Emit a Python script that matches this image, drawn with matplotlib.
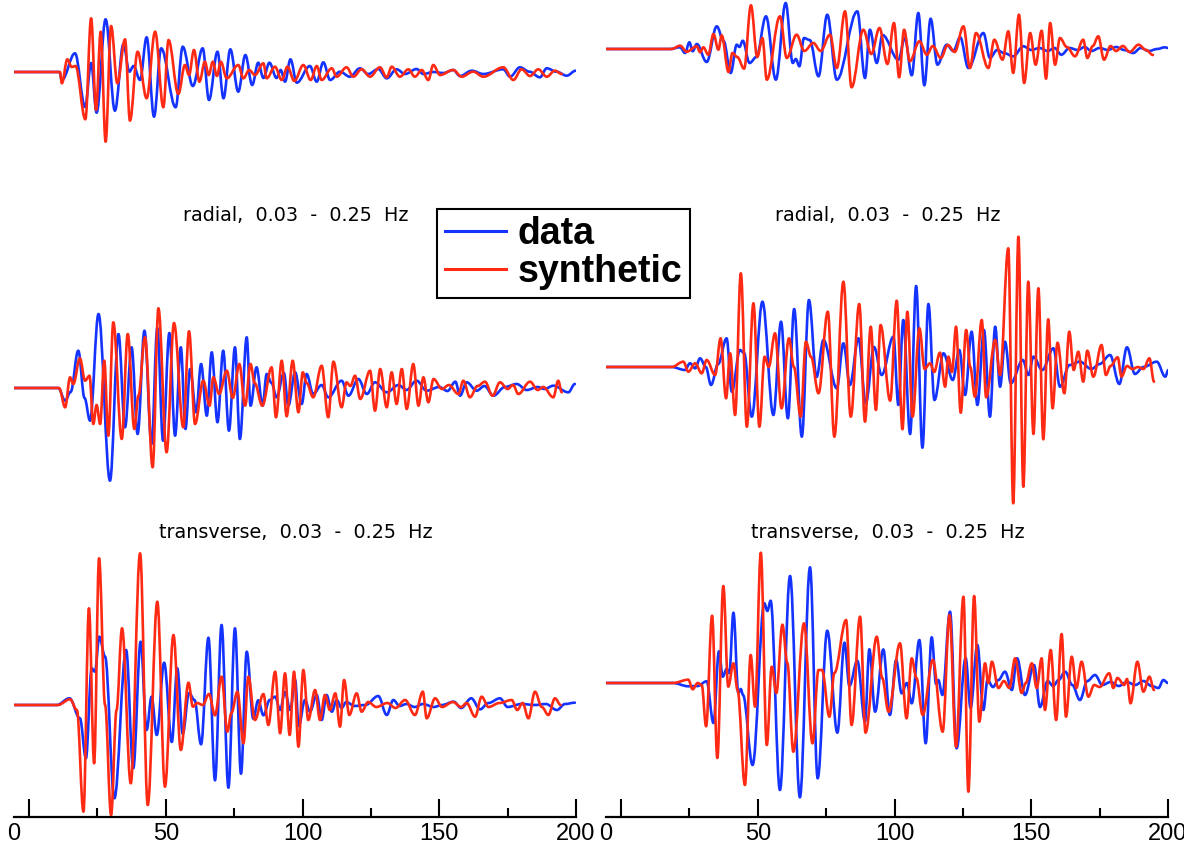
"""Data vs. synthetic seismograms, radial / transverse, 0.03 - 0.25 Hz."""

import matplotlib
matplotlib.use("Agg")
import matplotlib.pyplot as plt
from matplotlib.lines import Line2D
from matplotlib.path import Path
from matplotlib.patches import PathPatch
import numpy as np

BLUE = "#1533ff"
RED = "#ff2a14"

# ── Trace extrema: (time s, amplitude) ───────────────────────────────────────
# top row (component label cut off), left station
L1_DATA = [(-5.5, 0), (11.1, 0), (12.0, -8), (16.8, 18.7), (20.5, -35), (22.7, 9), (24.7, -40.7),
           (28.0, 52.7), (31.4, -38.7), (34.5, 27.7), (36.7, 0.3), (38.2, 6), (40.6, -8), (43.0, 34.7),
           (45.7, -44.7), (48.3, 23.7), (53.6, -35.3), (56.2, 25.3), (59.9, -14), (63.5, 23.7),
           (65.8, -28), (68.9, 20.3), (71.1, -26.3), (73.6, 22.7), (76.5, -19.7), (79.1, 17),
           (81.6, -13), (83.8, 9.3), (85.7, -6), (87.9, 9.3), (90.5, -6), (92.0, 2), (93.6, -9.7),
           (95.6, 12.7), (97.9, -10.7), (102.7, 6), (105.2, -9.7), (107.6, 9.7), (110.1, -8),
           (113.7, 0.3), (117.3, -4.7), (121.0, 3.7), (124.0, -2), (127.7, 3), (130.8, -6.3),
           (134.4, 2.7), (137.5, -2), (141.7, 3), (144.2, -2), (147.8, 0), (151.5, -1), (155.1, 2),
           (157.6, -4), (161.9, 1.3), (166.1, -2), (173.4, 2.7), (175.9, -4.7), (179.5, 4.7),
           (183.0, 0.3), (186.8, -5.3), (189.3, 3.7), (192.9, 0.3), (196.6, -3.7), (199.9, 1.3)]
L1_SYN = [(-5.5, 0), (11.3, 0), (12.0, -11.3), (14.0, 12.7), (15.6, 5), (17.0, 6), (20.6, -47.3),
          (22.7, 53.7), (24.5, -38), (26.2, 40.3), (28.0, -69.7), (30.0, 46), (32.3, -11.3),
          (35.1, 32.7), (36.9, -48.7), (39.7, 20.3), (43.0, -26.3), (46.1, 40.3), (49.1, -35.3),
          (51.0, 32), (54.6, -22), (57.0, 7), (58.5, -3), (60.3, 22), (62.3, -9.7), (64.3, 10.3),
          (65.7, -3), (67.2, 10.3), (68.7, -4), (70.1, 10.3), (72.3, -6.3), (76.5, 7), (78.4, -6.3),
          (80.5, 2), (82.6, -3), (85.7, 8.7), (86.9, -6.3), (89.9, 5.3), (92.4, -8), (94.5, 5.3),
          (97.0, -9), (100.3, 7), (103.0, -8), (105.2, 6), (107.0, -8), (110.7, 3.7), (112.5, -4.7),
          (116.1, 4.7), (118.6, -4.7), (121.6, 2.7), (124.7, -4.7), (128.3, 4.7), (130.8, -5.3),
          (132.6, 5.3), (135.6, -4.7), (138.7, 2.7), (141.1, -4.7), (143.6, 2), (146.0, -8),
          (147.8, 7), (150.3, -3), (155.1, 2), (158.2, -4.7), (162.4, 0.3), (166.1, -4.7),
          (173.4, 4.7), (177.1, -8), (180.1, 2.7), (183.2, -4), (186.2, 2.7), (189.3, -4.7),
          (192.3, 1.3), (194.8, -2)]

# top row, right station
R1_DATA = [(-5.5, 0), (17.9, 0), (21.6, 1.7), (23.4, -4), (25.0, 6.7), (26.2, -2.3), (27.7, 5),
           (31.3, -13), (35.0, 22.7), (37.5, 8), (40.1, -24), (42.3, 4.3), (43.3, 2), (44.5, 8.3),
           (47.0, -14), (49.5, -8), (53.0, 32.7), (56.6, -30.7), (60.2, 46), (62.8, -14),
           (63.9, -10), (65.2, -17.3), (66.9, 11), (69.0, 9), (72.2, -27.3), (75.4, 34.3),
           (78.9, -30.7), (86.4, 37.7), (89.2, -29), (91.0, 19.3), (93.5, -14), (95.6, 14),
           (101.4, -10.7), (103.8, 11), (106.3, -26.3), (108.7, 36), (110.9, -36.3), (113.2, 30.3),
           (115.7, -15.7), (119.1, 4.3), (121.5, -2), (124.0, 11.7), (127.0, -19), (132.5, 16),
           (134.9, -9), (137.5, -1), (140.0, -4), (143.4, -7.3), (147.1, 2.7), (150.0, -1),
           (153.0, 1), (156.0, -2), (158.5, 1), (161.0, -5.7), (164.0, 1), (167.0, -1), (169.5, 2),
           (172.0, -2), (175.0, 1), (178.0, -1), (181.0, 2), (184.0, -1), (187.3, -4), (190.0, 1),
           (193.0, -2), (196.0, 0), (198.9, 1.7), (200.0, 1)]
R1_SYN = [(-5.5, 0), (18.5, 0), (21.6, 3.3), (24.0, -2.7), (27.7, 2.7), (28.9, -3.3), (30.1, 1.7),
          (31.9, -5.7), (33.8, 15), (35.6, -0.7), (36.8, 13.7), (39.3, -23), (40.7, -4), (42.5, -8),
          (45.0, -19.7), (47.5, 43.7), (49.8, -8), (51.7, 11), (53.3, -30.7), (58.1, 32.7),
          (60.6, -9), (64.2, 14.3), (67.0, -2), (70.3, 6), (73.0, -2), (76.4, 14.3), (78.9, -19),
          (81.9, 37.7), (84.3, -38.3), (88.6, 19.3), (91.5, -5), (94.5, 21), (97.4, -15),
          (99.8, 26), (101.7, -28.3), (103.5, 19.3), (105.6, -12.3), (109.1, 7.7), (111.8, -5.7),
          (114.0, 3), (116.9, -9), (119.5, 4), (122.0, -3), (125.2, 22.7), (127.6, -19),
          (129.8, 16), (134.3, -19), (136.5, 9.3), (139.5, -10.7), (141.6, 17.7), (143.4, -24),
          (145.5, 34.3), (147.4, -34), (149.6, 16), (151.6, -15.7), (153.8, 18.3), (155.4, -29.7),
          (156.9, 26), (158.7, -15.7), (160.5, 11), (163.0, 2), (166.0, -7.3), (169.0, 9.3),
          (170.5, -9), (172.5, 3), (174.5, 12.7), (176.6, -10.7), (179.0, 3), (181.0, -2),
          (183.5, 3), (186.0, -3), (189.2, 4.3), (192.0, -1), (194.5, -6)]

# radial, left station
L2_DATA = [(-5.5, 0), (10.7, 0), (13.2, -12.7), (15.2, -4), (18.0, 37.3), (20.3, -10), (22.3, -32.7),
           (25.4, 74), (29.6, -92.7), (32.7, 54), (35.1, -39.3), (37.5, 40.7), (39.7, -46),
           (42.2, 57.3), (44.8, -56), (46.9, 60), (49.0, -52.7), (51.3, 55), (53.4, -47.7),
           (55.5, 40.7), (57.2, -41), (58.9, 19), (61.1, -24.3), (62.9, 24), (65.0, -27.7),
           (66.8, 35.7), (68.9, -34.3), (71.0, 37.3), (73.1, -42.7), (75.3, 40.7), (77.1, -51),
           (79.6, 50.7), (81.0, -17.7), (83.2, 20.7), (85.4, -17.7), (86.9, 14), (88.7, 5),
           (90.5, -9.3), (93.2, 15), (94.8, -17.7), (97.3, 15.7), (99.7, -16), (101.5, 14),
           (103.9, -6), (107.0, 3), (109.4, -9.3), (114.3, 7.3), (116.8, -7.7), (120.4, 9),
           (123.5, -6), (126.5, 5.7), (130.8, -4.3), (135.1, 3), (138.0, -2), (141.7, 7.3),
           (145.4, -2.7), (150.0, 1), (153.0, -3), (155.9, 6.3), (157.6, -7.7), (160.0, 5.7),
           (163.7, -2.7), (166.5, 2), (169.8, -7.7), (174.0, 1), (178.3, 4), (182.0, -2), (186.0, 1),
           (188.5, -1), (191.7, 2.3), (197.2, -4.3), (199.6, 4)]
L2_SYN = [(-5.5, 0), (11.0, 0), (13.2, -19.3), (15.0, 10.7), (16.2, 4), (18.6, 29.7), (20.5, 7.3),
          (22.1, 12.3), (23.5, -36), (24.7, -17), (26.0, -36), (27.5, 27.3), (29.0, -47.7),
          (30.8, 65.7), (33.9, -51), (36.1, 54), (38.5, -41), (40.0, -7.7), (42.4, 50.7),
          (45.2, -79.3), (47.3, 79.7), (50.3, -64.3), (53.0, 65), (56.4, -39.3), (58.5, 56.7),
          (60.7, -36), (63.7, 7.3), (66.0, -17.7), (67.4, 10.7), (69.5, -6), (72.3, 17.3),
          (74.5, -10), (76.9, 24), (79.0, -17.7), (81.0, 24), (82.5, 5), (85.3, -17.7),
          (88.7, 20.7), (90.3, -29.3), (92.4, 27.3), (94.2, -28.3), (96.4, 27.3), (98.5, -24.3),
          (100.1, 15.7), (101.5, 5), (103.9, -9.3), (107.0, 22.3), (109.4, -29.3), (111.3, 26.3),
          (114.3, -19.3), (116.1, 5.7), (117.5, 2), (119.2, 12.3), (121.1, -11), (124.7, 17.3),
          (126.5, -22.7), (128.4, 19), (130.8, -19.3), (132.6, 15.7), (134.4, -16), (136.3, 19),
          (138.1, -21), (140.5, 24), (142.4, -17.7), (144.2, 10.7), (146.0, -14.3), (147.9, 9),
          (151.0, -1), (153.5, 3), (157.0, -6), (158.8, 7.3), (161.2, -9.3), (164.0, 2),
          (166.7, 6.3), (169.5, -7.7), (172.2, 5.7), (175.0, -1), (177.0, 3), (178.9, -6),
          (183.2, 6.3), (186.0, -2), (188.0, 1), (191.7, -9.3), (193.5, 7.3), (194.8, -4.3)]

# radial, right station
R2_DATA = [(-5.5, 0), (18.5, 0), (23.4, -3), (25.2, 3.7), (27.1, -1.3), (28.9, 8.7), (31.0, 0),
           (32.9, -18), (35.5, 3), (38.6, 28.7), (40.5, -24.7), (43.5, 17), (45.0, 14),
           (47.8, -49.7), (51.7, 65.3), (55.7, -48), (58.5, 45.3), (61.0, -51.3), (63.3, 58),
           (66.1, -69.7), (68.7, 67), (71.5, -10), (74.0, 27), (78.9, -21.3), (81.3, 23.7),
           (83.7, -18), (86.8, 28.7), (89.5, -36.3), (92.5, 20), (95.3, -8), (99.6, 30.3),
           (101.4, -38), (103.2, 47), (105.7, -67), (107.9, 81), (110.2, -80.7), (112.4, 63),
           (114.6, -33), (117.9, 13.7), (121.3, -13), (123.7, 17), (125.8, -28), (128.2, 35.3),
           (130.3, -38), (132.7, 37), (134.9, -49.7), (136.8, 40.3), (138.6, -19.7), (140.4, 25.3),
           (142.5, -16.3), (146.9, 7), (149.0, -8), (150.8, 10.3), (154.0, -3), (158.1, 18.7),
           (160.5, -19.7), (164.0, 2), (167.8, 5.3), (172.0, -2), (175.0, 3), (178.8, 12),
           (182.2, -17), (185.0, 19.7), (187.9, -7), (191.0, 0), (195.9, 5.3), (199.0, -9.7),
           (200.1, -3)]
R2_SYN = [(-5.5, 0), (18.5, 0), (22.8, 5.3), (24.6, -4.7), (27.1, 3.7), (29.5, -6.3), (31.3, 7),
          (34.4, -8), (36.4, 28.7), (38.4, -31.3), (39.9, 13.7), (41.7, -48), (43.8, 93.7),
          (46.0, -59.7), (48.4, 63.7), (50.6, -59.7), (52.5, 10.3), (54.0, 0), (56.3, 33.7),
          (58.7, -41.3), (61.4, 28.7), (63.2, 0), (65.7, -49.7), (67.6, 25.3), (69.5, 10),
          (72.2, -26.3), (75.6, 55.3), (78.0, -69.7), (81.3, 85.3), (84.0, -49.7), (87.1, 63),
          (89.2, -54.7), (91.3, 40.3), (93.2, -43), (94.9, 42), (98.4, -33.7), (100.8, 66.3),
          (102.9, -62.3), (104.7, 55.3), (106.6, -49.7), (109.1, 38.7), (111.0, -2), (113.0, 3.7),
          (114.5, -5), (116.6, 14.3), (118.5, -19.7), (119.7, 10.3), (121.0, -5), (122.5, 40.3),
          (124.2, -45.7), (126.2, 37), (127.7, 0), (129.4, -29.7), (131.9, 47), (133.5, -30.3),
          (136.8, 27), (138.6, -8), (141.6, 118.7), (143.4, -136.3), (145.3, 130.3),
          (147.1, -119.7), (148.9, 85.3), (150.8, -67), (152.6, 78.7), (154.4, -72.3),
          (156.2, 47.7), (157.8, -41.3), (159.6, 24.3), (162.1, -26.3), (163.9, 35.3),
          (165.5, -3), (167.2, 15.3), (169.0, -14.7), (170.5, 16.3), (172.7, -9.7), (175.7, 22),
          (177.3, -8), (179.0, 1), (181.6, 9.7), (183.0, -9.7), (185.0, 1), (187.0, -2),
          (189.0, 0), (191.0, -2), (193.2, 8.7), (194.9, -14.7)]

# transverse, left station
L3_DATA = [(-5.5, 0), (10.1, 0), (14.8, 6.7), (18.6, -13.3), (20.8, -53.3), (22.9, 36.7),
           (24.1, 33.3), (25.7, 68.3), (27.8, 48.3), (31.2, -93.3), (35.5, 55), (38.1, -63.3),
           (40.8, 63.3), (43.0, -25), (44.8, 8.3), (46.7, -30), (49.4, 42.3), (52.2, -37),
           (54.2, 36.7), (56.2, -28.7), (58.5, 12), (60.5, 5), (62.9, -39.3), (65.6, 67.3),
           (68.0, -75.3), (70.4, 80), (72.9, -82.7), (75.3, 76.7), (77.5, -68.7), (79.6, 53.3),
           (82.0, -13.7), (83.8, 4.7), (85.7, -10.3), (88.0, 5), (90.0, 8.3), (91.8, -5),
           (93.6, 13), (95.5, -5), (97.3, 25), (98.6, -21), (100.9, 5), (102.7, -6.7), (105.2, 10),
           (107.0, -15), (108.8, 10), (110.7, -6.7), (112.5, 5), (114.3, -3), (116.0, 3),
           (119.0, -1), (123.0, 0), (127.7, 9), (130.8, -10), (133.2, 5), (135.5, -1), (138.0, 1),
           (141.0, -2), (144.0, 1), (148.0, -2), (151.0, 0), (155.3, 3.3), (158.0, -3),
           (161.7, 6.7), (164.9, -4.3), (168.0, 2), (172.2, 6.7), (175.0, -2), (180.0, 1),
           (185.0, 0), (189.0, 1), (193.0, -5), (196.0, 1), (199.6, 2.3)]
L3_SYN = [(-5.5, 0), (10.5, 0), (15.0, 5.7), (17.5, -5), (19.9, -106.7), (21.9, 96.7),
          (23.8, -58.3), (25.6, 146.7), (27.8, 0), (30.0, -110), (32.0, -5), (34.0, 76.7),
          (37.2, -78.3), (40.6, 151.7), (43.4, -100), (46.9, 103.3), (49.7, -81.7), (52.8, 70),
          (55.5, -45), (58.3, 22.3), (59.9, -1.7), (61.5, 2), (63.5, 0), (65.8, 11), (68.0, -10.3),
          (70.4, 28.3), (72.5, -26.7), (74.0, -8), (76.2, 13.3), (78.4, -38.3), (80.2, 28.3),
          (82.6, -15), (85.7, 11), (87.5, -20), (90.0, 33.3), (91.8, -28.3), (93.6, 31.7),
          (95.3, -30), (96.9, 33.3), (98.5, -41.7), (100.3, 35), (102.1, -15), (104.6, 15),
          (106.4, -15), (108.2, 10), (110.0, -5), (112.0, 11.7), (113.7, -21.7), (115.2, 25),
          (117.1, -10), (119.8, 11.7), (121.6, -6.7), (124.0, 3), (127.0, -2), (131.0, 2),
          (134.0, -3), (137.5, 5), (141.1, -10), (144.0, 13.3), (145.4, -13.3), (148.5, 6.7),
          (151.0, -2), (155.0, 3), (158.0, -2), (160.0, 2), (163.1, -11.7), (165.5, 8.3),
          (168.0, -2), (172.0, 2), (176.5, 5), (178.5, -5), (180.5, 2), (182.6, -13.3),
          (185.0, 13.3), (187.5, -2), (189.9, -10), (192.3, 6.7), (194.4, 0)]

# transverse, right station
R3_DATA = [(-5.5, 0), (19.0, 0), (24.6, -3.3), (28.0, -3), (31.3, 1.7), (33.8, -40), (35.8, 31.7),
           (37.2, 6.3), (38.6, 14), (39.6, 10), (41.1, 70.3), (42.9, -10), (43.8, -6), (44.6, -12),
           (48.1, -82), (52.4, 79.7), (53.5, 72), (54.7, 82.3), (58.1, -107), (61.8, 107),
           (65.4, -114.3), (69.1, 115.7), (71.9, -95.3), (75.4, 52.3), (79.1, -49.7), (81.7, 40.3),
           (83.5, -3), (86.4, 22.3), (89.2, -38.7), (90.8, 33.7), (92.9, -28.7), (95.9, 33.5),
           (98.3, -32), (100.6, 23), (102.6, -10.3), (104.5, 0), (106.3, -20.3), (109.1, 43),
           (111.4, -60.3), (113.6, 45.7), (115.2, -1), (116.0, 3), (117.5, -12), (120.3, 71.3),
           (122.7, -65.3), (126.0, 25), (127.8, -25), (130.3, 38), (132.5, -27), (134.0, 3),
           (136.0, -4), (138.0, 3), (140.4, 11.3), (142.9, -7), (144.8, 24.7), (147.7, -12),
           (151.0, 18), (153.2, -24), (156.0, 2), (158.0, -3), (160.0, 3), (162.4, 11.3),
           (165.0, -2), (167.8, -17), (170.5, 2), (173.3, 8), (176.0, -2), (179.0, 1), (182.0, -3),
           (185.0, 1), (188.0, -2), (191.0, 2), (194.0, -3), (196.5, -5), (198.3, 3), (200.0, 0)]
R3_SYN = [(-5.5, 0), (19.0, 0), (24.6, 3.3), (26.2, -6.3), (28.0, 0), (29.5, -2), (31.1, -43.3),
          (33.3, 67.3), (35.2, -75), (37.4, 97), (39.2, -3.7), (41.1, 19.7), (42.6, -7),
          (45.3, -102), (47.4, 28), (49.0, -23.7), (51.1, 130.3), (53.3, -62), (55.1, 16.3),
          (56.8, -10), (59.0, 58.3), (60.8, 20), (63.0, -68.7), (66.9, 59.7), (70.0, -60.3),
          (72.2, 13), (73.5, 13), (76.2, -33.7), (78.0, 10), (82.3, 63), (84.3, -42), (87.4, 66.3),
          (89.4, -49.7), (93.5, 46.3), (95.5, 5), (97.8, -28.7), (102.0, 39.7), (104.4, -35.3),
          (106.3, 24.7), (108.0, 5), (110.3, -32), (114.0, 23), (117.6, -48.7), (120.1, 68),
          (122.5, -63.7), (125.2, 86.3), (127.0, -108.7), (129.1, 87), (131.0, -38.7),
          (133.1, 19.7), (134.3, 0), (135.6, 21.3), (138.0, -5), (140.0, 2), (142.0, -5),
          (144.1, 24.7), (146.5, -10), (148.0, 0), (150.2, 19.7), (152.0, -5), (153.8, 24.7),
          (155.0, -27), (157.1, 33), (159.1, -37), (161.1, 49), (162.7, -33.7), (164.8, 26.3),
          (166.5, -5), (168.4, 21.3), (170.9, -13.7), (173.0, -2), (175.0, -4), (178.5, 9.7),
          (180.0, -5), (181.5, 5), (184.0, -2), (185.0, 4), (186.3, -20.3), (188.8, 21.3),
          (191.0, -8.7), (193.2, 6.3), (194.9, -7)]

TITLES = ["", "radial,  0.03  -  0.25  Hz", "transverse,  0.03  -  0.25  Hz"]
XTICKS = [0, 50, 100, 150, 200]
XMINOR = [25, 75, 125, 175]


def trace_patch(points, offset, color):
    """Smooth curve through the extrema (cubic Bezier, flat at each extremum)."""
    pts = np.asarray(points, dtype=float)
    t, a = pts[:, 0], pts[:, 1] + offset
    verts = [(t[0], a[0])]
    codes = [Path.MOVETO]
    for i in range(len(t) - 1):
        dt = t[i + 1] - t[i]
        verts += [(t[i] + 0.3642 * dt, a[i]), (t[i + 1] - 0.3642 * dt, a[i + 1]), (t[i + 1], a[i + 1])]
        codes += [Path.CURVE4] * 3
    return PathPatch(Path(verts, codes), fill=False, edgecolor=color, lw=1.9,
                     capstyle="round", joinstyle="round")


fig = plt.figure(figsize=(11.84, 8.44), dpi=100)
fig.patch.set_facecolor("white")

columns = [
    (14 / 1184, [L1_DATA, L2_DATA, L3_DATA], [L1_SYN, L2_SYN, L3_SYN], [745, 429, 112]),
    (606 / 1184, [R1_DATA, R2_DATA, R3_DATA], [R1_SYN, R2_SYN, R3_SYN], [768, 450, 134]),
]
for left, datas, syns, offsets in columns:
    ax = fig.add_axes([left, 1 - 817 / 844, 562 / 1184, 817 / 844])
    ax.set_xlim(-5.5, 200)
    ax.set_ylim(0, 817)
    for d, s, off in zip(datas, syns, offsets):
        ax.add_patch(trace_patch(d, off, BLUE))
        ax.add_patch(trace_patch(s, off, RED))
    for title, y in zip(TITLES, [900, 602, 285]):
        if title:
            ax.text(97.5, y, title, ha="center", va="center", fontsize=13.8,
                    family="DejaVu Sans")

    for side in ["top", "right", "left"]:
        ax.spines[side].set_visible(False)
    ax.spines["bottom"].set_linewidth(1.6)
    ax.set_yticks([])
    ax.set_xticks(XTICKS)
    ax.set_xticklabels([""] + [str(v) for v in XTICKS[1:]], fontsize=17, family="Liberation Sans")
    ax.set_xticks(XMINOR, minor=True)
    ax.tick_params(axis="x", which="major", direction="in", length=13, width=1.5, pad=4)
    ax.tick_params(axis="x", which="minor", direction="in", length=6.5, width=1.5)
    ax.annotate("0", xy=(-5.5, 0), xycoords=("data", "axes fraction"), xytext=(0, -4),
                textcoords="offset points", ha="center", va="top", fontsize=17,
                family="Liberation Sans", annotation_clip=False)

handles = [Line2D([], [], color=BLUE, lw=2.2), Line2D([], [], color=RED, lw=2.2)]
fig.legend(handles, ["data", "synthetic"], loc="upper left",
           bbox_to_anchor=(437 / 1184, 1 - 209 / 844), borderaxespad=0,
           prop={"family": "Liberation Sans", "weight": "bold", "size": 27},
           frameon=True, fancybox=False, edgecolor="black", framealpha=1,
           handlelength=1.65, handletextpad=0.3, labelspacing=0.05, borderpad=0.2)
fig.legends[0].get_frame().set_linewidth(1.5)

fig.savefig("out.png", dpi=100, facecolor="white")
